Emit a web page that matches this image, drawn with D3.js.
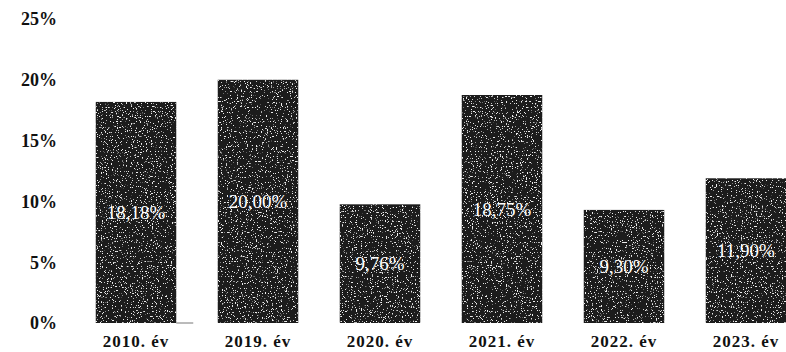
<!DOCTYPE html>
<html>
<head>
<meta charset="utf-8">
<script src="https://cdn.jsdelivr.net/npm/d3@7"></script>
<style>
  body { margin: 0; background: #fff; }
  svg { display: block; }
</style>
</head>
<body>
<svg id="chart" width="786" height="352"></svg>
<script>
const years = ["2010. év", "2019. év", "2020. év", "2021. év", "2022. év", "2023. év"];
const values = [18.18, 20.0, 9.76, 18.75, 9.3, 11.9];
const valueLabels = ["18,18%", "20,00%", "9,76%", "18,75%", "9,30%", "11,90%"];
const yTicks = [0, 5, 10, 15, 20, 25];

const svg = d3.select("#chart");

// scanned-looking speckle on the bars
const defs = svg.append("defs");
const grain = defs.append("filter").attr("id", "grain")
  .attr("x", 0).attr("y", 0).attr("width", 1).attr("height", 1);
grain.append("feTurbulence")
  .attr("type", "fractalNoise")
  .attr("baseFrequency", 0.8)
  .attr("numOctaves", 2)
  .attr("seed", 7)
  .attr("result", "noise");
grain.append("feColorMatrix")
  .attr("in", "noise")
  .attr("type", "matrix")
  .attr("values", "0 0 0 0 0.85  0 0 0 0 0.85  0 0 0 0 0.85  0 0 0 14 -9.0")
  .attr("result", "dots");
grain.append("feComposite")
  .attr("in", "dots").attr("in2", "SourceAlpha")
  .attr("operator", "in").attr("result", "dotsIn");
grain.append("feMerge").call(m => {
  m.append("feMergeNode").attr("in", "SourceGraphic");
  m.append("feMergeNode").attr("in", "dotsIn");
});

const x = d3.scaleBand()
  .domain(years)
  .range([75, 807])
  .paddingInner(0.34)
  .paddingOuter(0.17);

const y = d3.scaleLinear()
  .domain([0, 25])
  .range([323, 19]);

const serif = "'Liberation Serif', 'Times New Roman', serif";

// y labels (no axis line in the original)
svg.append("g")
  .selectAll("text")
  .data(yTicks)
  .join("text")
  .attr("x", 57)
  .attr("y", (d) => y(d))
  .attr("dy", "0.35em")
  .attr("text-anchor", "end")
  .attr("font-family", serif)
  .attr("font-weight", "bold")
  .attr("font-size", 18)
  .attr("fill", "#111")
  .text((d) => d + "%");

// bars
svg.append("g")
  .selectAll("rect")
  .data(values)
  .join("rect")
  .attr("x", (d, i) => x(years[i]))
  .attr("y", (d) => y(d))
  .attr("width", x.bandwidth())
  .attr("height", (d) => y(0) - y(d))
  .attr("fill", "#1a1a1a")
  .attr("filter", "url(#grain)");

// value labels in the middle of each bar
svg.append("g")
  .selectAll("text")
  .data(values)
  .join("text")
  .attr("x", (d, i) => x(years[i]) + x.bandwidth() / 2)
  .attr("y", (d) => (y(d) + y(0)) / 2)
  .attr("dy", "0.35em")
  .attr("text-anchor", "middle")
  .attr("font-family", serif)
  .attr("font-size", 19)
  .attr("fill", "#fff")
  .text((d, i) => valueLabels[i]);

// x labels
svg.append("g")
  .selectAll("text")
  .data(years)
  .join("text")
  .attr("x", (d) => x(d) + x.bandwidth() / 2)
  .attr("y", 347)
  .attr("text-anchor", "middle")
  .attr("font-family", serif)
  .attr("font-weight", "bold")
  .attr("font-size", 17)
  .attr("letter-spacing", 1)
  .attr("fill", "#111")
  .text((d) => d);

// faint remnant of the baseline visible in the scan
svg.append("line")
  .attr("x1", x(years[0]) + x.bandwidth()).attr("x2", x(years[0]) + x.bandwidth() + 17)
  .attr("y1", y(0)).attr("y2", y(0))
  .attr("stroke", "#777").attr("stroke-width", 1);
</script>
</body>
</html>
